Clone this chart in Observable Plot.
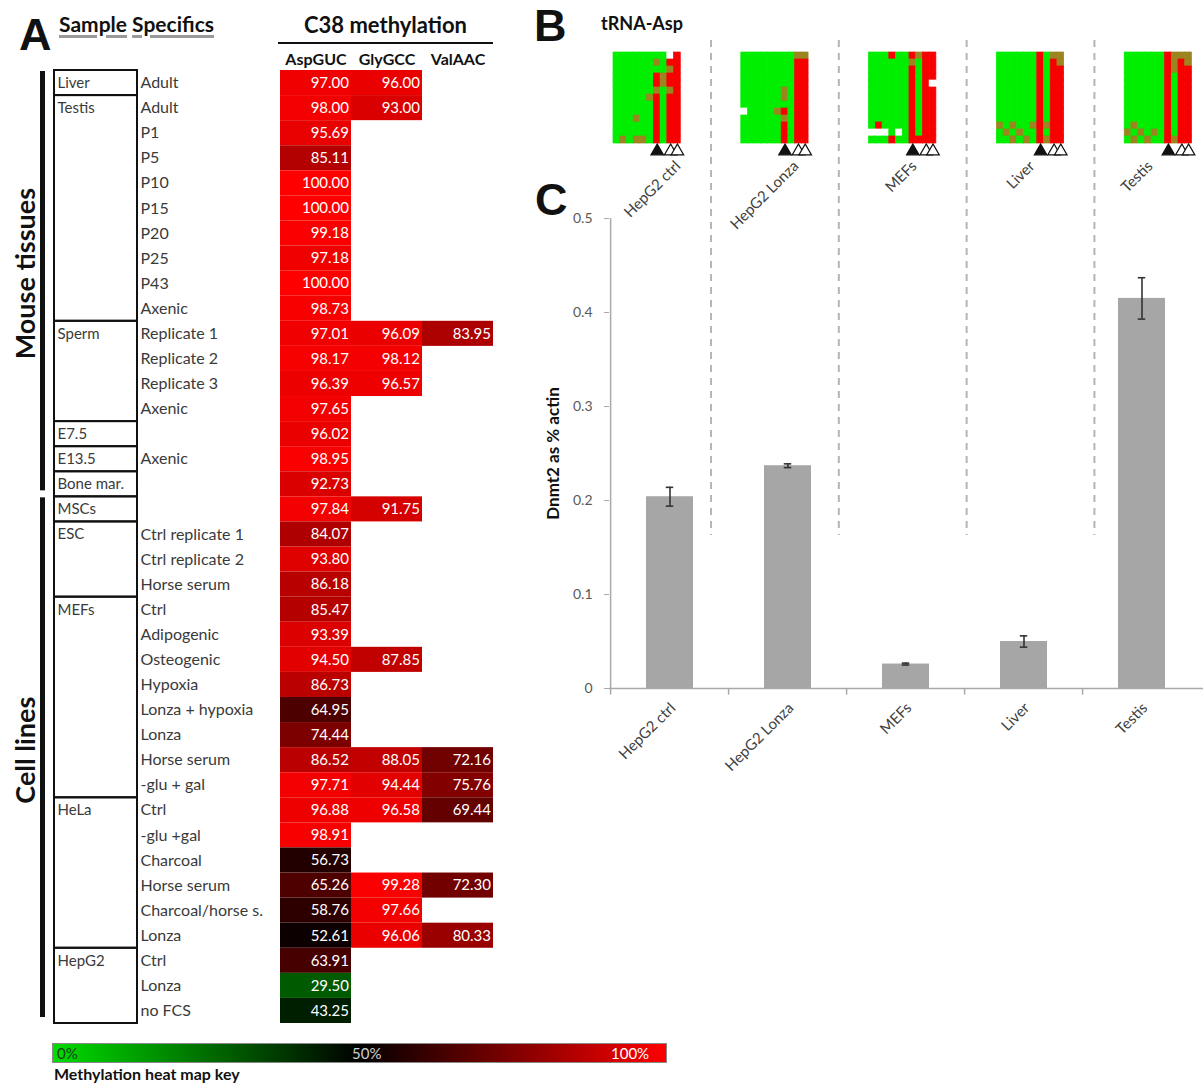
<!DOCTYPE html>
<html>
<head>
<meta charset="utf-8">
<script src="https://cdn.jsdelivr.net/npm/d3@7"></script>
<script src="https://cdn.jsdelivr.net/npm/@observablehq/plot@0.6"></script>
<style>
  body { margin: 0; background: #fff; }
  #fig { position: relative; width: 1203px; height: 1083px; overflow: hidden; font-family: Lato, "Open Sans", sans-serif; color: #111; }
  #fig > * { position: absolute; }
  #fig svg { max-width: none; }
  .letter { font-family: "Liberation Sans", Arial, sans-serif; font-weight: bold; font-size: 45px; line-height: 1; }
  .hdr { font-weight: bold; white-space: nowrap; line-height: 1; }
  .ul { text-decoration: underline; text-decoration-color: #9a9a9a; text-decoration-thickness: 3px; text-underline-offset: 3px; }
</style>
</head>
<body>
<div id="fig">
  <div class="letter" style="left:19px;top:12px;">A</div>
  <div class="hdr" style="left:59px;top:13px;font-size:21px;"><span class="ul">Sample</span> <span class="ul">Specifics</span></div>
  <div class="hdr" style="left:278px;top:14px;width:215px;font-size:22px;text-align:center;border-bottom:2.5px solid #111;padding-bottom:6px;">C38 methylation</div>
  <div class="letter" style="left:534px;top:3px;">B</div>
  <div class="hdr" style="left:601px;top:14px;font-size:18px;">tRNA-Asp</div>
  <div class="letter" style="left:535px;top:177px;">C</div>
  <div id="panelA" style="left:0;top:0;"></div>
  <div id="key" style="left:52px;top:1043px;width:613px;height:18px;border:1px solid #888;"></div>
  <div style="left:57px;top:1043px;font-size:15px;line-height:20px;color:#17401a;">0%</div>
  <div style="left:352px;top:1043px;font-size:15px;line-height:20px;color:#d0d0d0;">50%</div>
  <div style="left:611px;top:1043px;font-size:15px;line-height:20px;color:#fff;">100%</div>
  <div class="hdr" style="left:54px;top:1066px;font-size:16px;">Methylation heat map key</div>
  <div id="panelC" style="left:530px;top:0;"></div>
  <div id="panelB" style="left:0;top:0;pointer-events:none;"></div>
</div>
<script>
// ---------------- Panel A: C38 methylation table ----------------
const tRNAs = ["AspGUC", "GlyGCC", "ValAAC"];

const groupNames = ["Liver", "Testis", "Sperm", "E7.5", "E13.5", "Bone mar.", "MSCs", "ESC", "MEFs", "HeLa", "HepG2"];
const groupSizes = [1, 9, 4, 1, 1, 1, 1, 3, 8, 6, 3];

const sectionNames = ["Mouse tissues", "Cell lines"];
const sectionSizes = [17, 21];

const sampleNames = [
  "Adult", "Adult", "P1", "P5", "P10", "P15", "P20", "P25", "P43", "Axenic",
  "Replicate 1", "Replicate 2", "Replicate 3", "Axenic",
  "",
  "Axenic",
  "",
  "",
  "Ctrl replicate 1", "Ctrl replicate 2", "Horse serum",
  "Ctrl", "Adipogenic", "Osteogenic", "Hypoxia", "Lonza + hypoxia", "Lonza", "Horse serum", "-glu + gal",
  "Ctrl", "-glu +gal", "Charcoal", "Horse serum", "Charcoal/horse s.", "Lonza",
  "Ctrl", "Lonza", "no FCS"
];

const aspGUC = [
  97.00, 98.00, 95.69, 85.11, 100.00, 100.00, 99.18, 97.18, 100.00, 98.73,
  97.01, 98.17, 96.39, 97.65,
  96.02,
  98.95,
  92.73,
  97.84,
  84.07, 93.80, 86.18,
  85.47, 93.39, 94.50, 86.73, 64.95, 74.44, 86.52, 97.71,
  96.88, 98.91, 56.73, 65.26, 58.76, 52.61,
  63.91, 29.50, 43.25
];
const glyGCC = [
  96.00, 93.00, null, null, null, null, null, null, null, null,
  96.09, 98.12, 96.57, null,
  null,
  null,
  null,
  91.75,
  null, null, null,
  null, null, 87.85, null, null, null, 88.05, 94.44,
  96.58, null, null, 99.28, 97.66, 96.06,
  null, null, null
];
const valAAC = [
  null, null, null, null, null, null, null, null, null, null,
  83.95, null, null, null,
  null,
  null,
  null,
  null,
  null, null, null,
  null, null, null, null, null, null, 72.16, 75.76,
  69.44, null, null, 72.30, null, 80.33,
  null, null, null
];

// heat map key: 0% green, 50% black, 100% red
const keyStops = [0, 50, 100];
const keyColors = ["#00dc00", "#000000", "#ff0000"];

// ---------------- Panel B: tRNA-Asp bisulfite read maps ----------------
// one string per read band, one character per C position
// G = unmethylated, R = methylated, o = mixed, w = no call
const bSamples = ["HepG2 ctrl", "HepG2 Lonza", "MEFs", "Liver", "Testis"];
const readsHepG2Ctrl = [
  "GGGGGGGGwR", "GGGGGGoGRR", "GGGGGGGGoR", "GGGGGGRoRR", "GGGGGGRoRR",
  "GGGGGGoGoR", "GGGGGoRGRR", "GGGGGGRGRR", "GGGGGGRGRR", "GGGoGGRGRR",
  "GGGGGGRGRR", "GGGGGGRGRR", "GoGooGRGRR"
];
const readsHepG2Lonza = [
  "GGGGGGGGoo", "GGGGGGGGRR", "GGGGGGGGRR", "GGGGGGGGRR", "GGGGGGGGRR",
  "GGGGGGoGRR", "GGGGGGoGRR", "GGGGGGGGRR", "wGGGGoRGRR", "GGGGGGoGRR",
  "GGGGGGRGRR", "GGGGGGRGRR", "GGGGGGRGRR"
];
const readsMEFs = [
  "GGGRGGRoRR", "GGGGGGoGRR", "GGGGGGRGRR", "GGGGGGRGRR", "GGGGGGRGRw",
  "GGGGGGRGRR", "GGGGGGRGRR", "GGGGGGRGRR", "GGGGGGRGRR", "GGGGGGRGRR",
  "GRGGGGRGRR", "wwwGwGRGRR", "GGGRGGRRRR"
];
const readsLiver = [
  "GGGGGGRGoo", "GGGGGGRGRo", "GGGGGGRGRR", "GGGGGGRGRR", "GGGGGGRGRR",
  "GGGGGGRGRR", "GGGGGGRGRR", "GGGGGGRGRR", "GGGGGGRGRR", "GGGGGGRGRR",
  "oGoGGoRoRR", "GoGoGGRGRR", "GGoGoGRoRR"
];
const readsTestis = [
  "GGGGGGRooo", "GGGGGGRoRo", "GGGGGGRoRR", "GGGGGGRGRR", "GGGGGGRGRR",
  "GGGGGGRGRR", "GGGGGGRGRR", "GGGGGGRGRR", "GGGGGGRGRR", "GGGGGGRGRR",
  "GoGGGGRGRR", "oGoGoGRGRR", "GoGoGGRoRR"
];
const bReads = [readsHepG2Ctrl, readsHepG2Lonza, readsMEFs, readsLiver, readsTestis];
// marked positions under each map: C38 (filled) and two flanking Cs (open)
const markedPositions = [6, 8, 9];
const markedKinds = ["C38", "other", "other"];

// ---------------- Panel C: Dnmt2 expression ----------------
const cSamples = ["HepG2 ctrl", "HepG2 Lonza", "MEFs", "Liver", "Testis"];
const dnmt2 = [0.204, 0.237, 0.026, 0.050, 0.415];
const dnmt2Err = [0.010, 0.002, 0.001, 0.006, 0.022];
const yTicks = [0, 0.1, 0.2, 0.3, 0.4, 0.5];

// =================================================================
const font = "Lato, 'Open Sans', sans-serif";

// ---- Panel A ----
const cells = [];
[aspGUC, glyGCC, valAAC].forEach((col, k) =>
  col.forEach((v, i) => { if (v != null) cells.push({row: i, tRNA: tRNAs[k], value: v}); })
);
const rows = sampleNames.map((name, i) => ({row: i, name}));
const groups = [];
groupNames.reduce((start, name, k) => {
  groups.push({name, start, end: start + groupSizes[k]});
  return start + groupSizes[k];
}, 0);
const sections = [];
sectionNames.reduce((start, name, k) => {
  sections.push({name, start, end: start + sectionSizes[k]});
  return start + sectionSizes[k];
}, 0);
const nRows = sampleNames.length;

const panelA = Plot.plot({
  width: 500, height: 1032,
  marginTop: 70, marginBottom: 9, marginLeft: 0, marginRight: 0,
  style: {fontFamily: font, background: "transparent", overflow: "visible"},
  x: {domain: tRNAs, range: [279, 493], padding: 0, axis: null},
  y: {domain: [0, nRows], range: [70, 1023], axis: null},
  color: {type: "linear", domain: keyStops, range: keyColors, interpolate: "rgb"},
  marks: [
    Plot.axisX({anchor: "top", tickSize: 0, tickPadding: 6, fontSize: 16, fontWeight: "bold", color: "#111", label: null}),
    Plot.barY(cells, {x: "tRNA", y1: "row", y2: d => d.row + 1, fill: "value"}),
    Plot.text(cells, {x: "tRNA", y: d => d.row + 0.5, text: d => d.value.toFixed(2), fill: "#fff",
      textAnchor: "end", dx: 33, fontSize: 15}),
    Plot.rect(groups, {y1: "start", y2: "end", insetLeft: 54, insetRight: 363, fill: "none", stroke: "#111", strokeWidth: 2}),
    Plot.text(groups, {y: d => d.start + 0.5, text: "name", frameAnchor: "left", dx: 57, textAnchor: "start",
      fill: "#3a3a3a", fontSize: 15}),
    Plot.text(rows, {y: d => d.row + 0.5, text: "name", frameAnchor: "left", dx: 140, textAnchor: "start",
      fill: "#3a3a3a", fontSize: 16}),
    Plot.rect(sections, {y1: "start", y2: "end", insetLeft: 40, insetRight: 455, insetTop: 1, insetBottom: 6, fill: "#111"}),
    Plot.text(sections, {y: d => (d.start + d.end) / 2 - 0.4, text: "name", frameAnchor: "left", dx: 26,
      textAnchor: "middle", rotate: -90, fontSize: 27, fontWeight: "bold", fill: "#111"})
  ]
});
document.getElementById("panelA").append(panelA);

// heat map key drawn with the same colour scale
const colorA = panelA.scale("color");
const keyScale = d3.scaleLinear().domain(colorA.domain).range(colorA.range).interpolate(d3.interpolateRgb);
const stops = d3.range(0, 101, 5).map(p => `${keyScale(p)} ${p}%`).join(", ");
document.getElementById("key").style.background = `linear-gradient(to right, ${stops})`;

// ---- Panel C ----
const widthC = 673, marginLeftC = 79;
const stepC = (widthC - marginLeftC) / cSamples.length;
const bars = cSamples.map((name, i) => ({name, value: dnmt2[i], err: dnmt2Err[i]}));
const axisGray = "#a9a9a9";
const capInset = (stepC * 0.4 - 8) / 2;

const panelC = Plot.plot({
  width: widthC, height: 790,
  marginTop: 218, marginBottom: 102, marginLeft: marginLeftC, marginRight: 0,
  style: {fontFamily: font, background: "transparent", overflow: "visible"},
  x: {domain: cSamples, paddingInner: 0.6, paddingOuter: 0.3, axis: null},
  y: {domain: [0, 0.5], axis: null},
  marks: [
    Plot.barY(bars, {x: "name", y: "value", fill: "#a6a6a6"}),
    Plot.ruleY([0], {stroke: axisGray, strokeWidth: 1.5}),
    Plot.ruleX(cSamples.slice(0, 1), {x: d => d, dx: -stepC / 2, y1: 0, y2: 0.5, stroke: axisGray, strokeWidth: 1.5}),
    Plot.ruleX(cSamples, {x: d => d, dx: -stepC / 2, y1: 0, y2: -0.007, stroke: axisGray, strokeWidth: 1.5}),
    Plot.axisY({ticks: yTicks, tickSize: 5, tickPadding: 12, stroke: axisGray, color: "#595959", fontSize: 14,
      tickFormat: d => d === 0 ? "0" : d.toFixed(1), label: null}),
    Plot.ruleX(bars, {x: "name", y1: d => d.value - d.err, y2: d => d.value + d.err, stroke: "#333", strokeWidth: 1.6}),
    Plot.tickY(bars, {x: "name", y: d => d.value - d.err, insetLeft: capInset, insetRight: capInset, stroke: "#333", strokeWidth: 1.6}),
    Plot.tickY(bars, {x: "name", y: d => d.value + d.err, insetLeft: capInset, insetRight: capInset, stroke: "#333", strokeWidth: 1.6}),
    Plot.axisX({anchor: "bottom", tickSize: 0, tickPadding: 17, tickRotate: -45, dx: 3, fontSize: 15, color: "#404040", label: null}),
    Plot.text(cSamples, {x: d => d, frameAnchor: "top", dy: -59, dx: 4, rotate: -45, textAnchor: "end",
      fontSize: 15, fill: "#404040"}),
    Plot.text(["Dnmt2 as % actin"], {frameAnchor: "left", dx: -56, textAnchor: "middle", rotate: -90,
      fontSize: 17, fontWeight: "bold", fill: "#111"})
  ]
});
document.getElementById("panelC").append(panelC);

// ---- Panel B ----
const posPerMap = bReads[0][0].length;
const readsPerMap = bReads[0].length;
const mapStep = 19; // in position units, map width plus gap
const stateColor = {G: "#00ee00", R: "#f60000", o: "#9c8420", w: "#ffffff"};
const bCells = [];
bReads.forEach((reads, s) => reads.forEach((line, r) => [...line].forEach((state, c) =>
  bCells.push({sample: bSamples[s], s, r, c, state})
)));
const bMarks = [];
bSamples.forEach((sample, s) => markedPositions.forEach((c, k) => bMarks.push({s, c, kind: markedKinds[k]})));
const separators = d3.range(1, bSamples.length).map(s => s * mapStep - (mapStep - posPerMap) / 2);

const panelB = Plot.plot({
  width: 1203, height: 540,
  marginTop: 40, marginBottom: 5, marginLeft: 0, marginRight: 0,
  style: {background: "transparent", overflow: "visible"},
  x: {domain: [0, mapStep * bSamples.length], range: [613, 1252], axis: null},
  y: {domain: [0, readsPerMap], range: [52, 143], axis: null},
  color: {type: "identity"},
  marks: [
    Plot.ruleX(separators, {stroke: "#b5b5b5", strokeWidth: 2, strokeDasharray: "7,6"}),
    Plot.rect(bCells, {x1: d => d.s * mapStep + d.c, x2: d => d.s * mapStep + d.c + 1,
      y1: "r", y2: d => d.r + 1, fill: d => stateColor[d.state], stroke: d => stateColor[d.state], strokeWidth: 0.7}),
    Plot.dot(bMarks, {x: d => d.s * mapStep + d.c + 0.5, y: readsPerMap + 1.1, symbol: "triangle", r: 4.6,
      fill: d => d.kind === "C38" ? "#111" : "#fff", stroke: "#111", strokeWidth: 1.3})
  ]
});
document.getElementById("panelB").append(panelB);
</script>
</body>
</html>
